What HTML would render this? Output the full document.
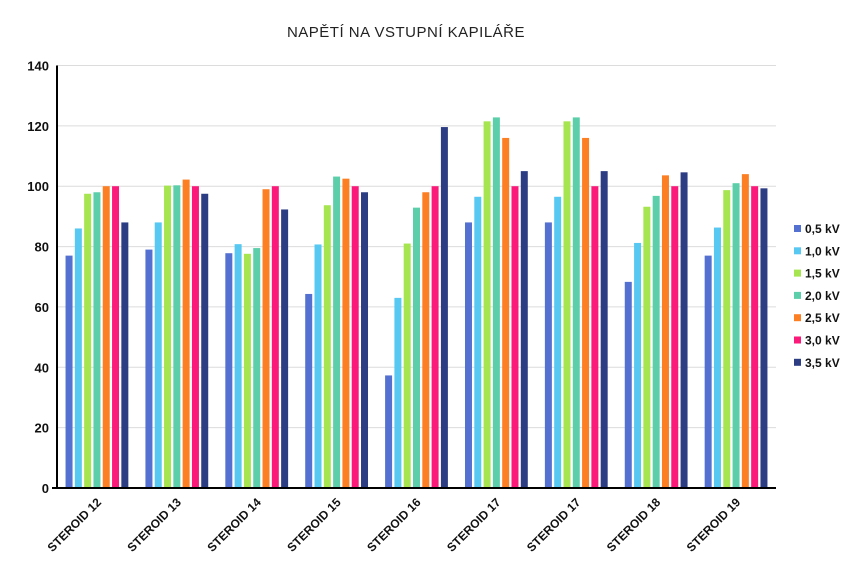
<!DOCTYPE html>
<html><head><meta charset="utf-8"><style>
body{margin:0;background:#fff;}
svg{display:block;font-family:"Liberation Sans",sans-serif;}
</style></head><body>
<svg id="chart" width="858" height="578">
<text x="406" y="37" text-anchor="middle" font-size="15" fill="#222" letter-spacing="0.5">NAPĚTÍ NA VSTUPNÍ KAPILÁŘE</text>
<g id="grid"></g><g id="bars"></g><g id="axes"></g><g id="legend"></g>
</svg>
<script>
const categories=["STEROID 12","STEROID 13","STEROID 14","STEROID 15","STEROID 16","STEROID 17","STEROID 17","STEROID 18","STEROID 19"];
const seriesNames=["0,5 kV","1,0 kV","1,5 kV","2,0 kV","2,5 kV","3,0 kV","3,5 kV"];
const s05=[77,79,77.8,64.3,37.3,88,88,68.3,77];
const s10=[86,88,80.8,80.7,63,96.5,96.5,81.2,86.3];
const s15=[97.5,100.2,77.6,93.7,81,121.5,121.5,93.2,98.7];
const s20=[98,100.3,79.5,103.2,92.9,122.8,122.8,96.8,101];
const s25=[100,102.2,99,102.5,98,116,116,103.6,104];
const s30=[100,100,100,100,100,100,100,100,100];
const s35=[88,97.5,92.3,98,119.6,105,105,104.6,99.3];
const yTicks=[0,20,40,60,80,100,120,140];
const series=[s05,s10,s15,s20,s25,s30,s35];
const colors=["#5470d0","#57c8f2","#a6e550","#5ccfaa","#fc7f24","#fb1a7a","#2d3d84"];
const NS="http://www.w3.org/2000/svg";
const X0=57,X1=776,Y0=488,Y1=65.5,YMAX=140;
const y=v=>Y0-(v/YMAX)*(Y0-Y1);
const cw=(X1-X0)/categories.length;
const slot=9.3,bw=7;
function mk(t,a,p){const e=document.createElementNS(NS,t);for(const k in a)e.setAttribute(k,a[k]);p.appendChild(e);return e;}
const grid=document.getElementById('grid'),bars=document.getElementById('bars'),axes=document.getElementById('axes'),leg=document.getElementById('legend');
yTicks.forEach(t=>{
  if(t>0){const l=mk('line',{x1:X0,x2:X1,y1:y(t),y2:y(t),stroke:'#dcdcdc','stroke-width':1},grid);
  
  }
  const tx=mk('text',{x:X0-8,y:y(t)+5,'text-anchor':'end','font-size':13,'font-weight':'bold',fill:'#111'},axes);
  tx.textContent=t;
  
  
});
categories.forEach((c,i)=>{
  const cx=X0+cw*(i+0.5);
  series.forEach((s,j)=>{
    const x=cx-slot*3.5+slot*j+(slot-bw)/2;
    const r=mk('rect',{x:x,y:y(s[i]),width:bw,height:Y0-y(s[i]),fill:colors[j]},bars);
    
    
  });
  const t=mk('text',{x:cx+5,y:503,'text-anchor':'end','font-size':12,'font-weight':'bold',fill:'#111',transform:`rotate(-45 ${cx+5} 503)`},axes);
  t.textContent=c;
  
  
});
const ya=mk('line',{x1:X0,x2:X0,y1:Y1,y2:Y0,stroke:'#000','stroke-width':2},axes);


const xa=mk('line',{x1:X0-5,x2:X1,y1:Y0,y2:Y0,stroke:'#000','stroke-width':2},axes);


seriesNames.forEach((n,j)=>{
  const ly=231+j*22.3;
  const g=mk('g',{},leg);
  
  
  mk('rect',{x:794,y:ly-6,width:7,height:7,fill:colors[j]},g);
  const t=mk('text',{x:805,y:ly+2,'font-size':12,'font-weight':'bold',fill:'#111'},g);
  t.textContent=n;
});
</script>
</body></html>
